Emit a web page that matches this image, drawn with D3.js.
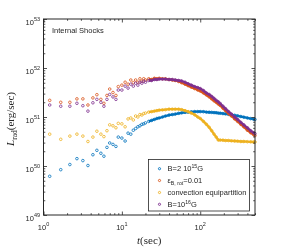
<!DOCTYPE html>
<html>
<head>
<meta charset="utf-8">
<script src="https://cdn.jsdelivr.net/npm/d3@7"></script>
<style>
  body { margin: 0; background: #fff; }
  svg { will-change: transform; }
  svg text { font-family: "Liberation Sans", Arial, sans-serif; fill: #262626; }
  svg text.serif { font-family: "Liberation Serif", "DejaVu Serif", serif; }
</style>
</head>
<body>
<div id="chart"></div>
<script>
// time grid (sec), shared by all runs
const times = [1.2, 1.66, 2.17, 2.67, 3.18, 3.69, 4.27, 4.8, 5.4, 5.9, 6.45, 7.0, 7.7, 8.4, 9.0,
    10, 11, 12, 13, 14, 15, 16, 17, 18, 19, 20, 22, 24, 26, 28, 30, 33, 36, 40, 44, 48,
    53, 58, 64, 70, 77, 85, 93, 100, 110, 120, 130, 140, 150, 160, 170, 180, 195, 210,
    230, 250, 275, 300, 330, 360, 400, 440, 480, 500];

// log10 of L_rad (erg/sec)
const logB2e15 = [49.79, 49.925, 50.03, 50.15, 50.11, 50.01, 50.23, 50.32, 50.26, 50.20, 50.38, 50.47, 50.44, 50.40, 50.59,
    50.57, 50.51, 50.67, 50.65, 50.73, 50.765, 50.80, 50.82, 50.85, 50.86, 50.88,
    50.91, 50.93, 50.95, 50.97, 50.98, 51.00, 51.02, 51.04, 51.05, 51.06,
    51.075, 51.085, 51.094, 51.10, 51.105, 51.11, 51.11, 51.11, 51.108, 51.10,
    51.097, 51.094, 51.09, 51.087, 51.08, 51.077, 51.07, 51.063, 51.055, 51.047,
    51.035, 51.025, 51.01, 50.996, 50.98, 50.967, 50.955, 50.95];
const logEpsRot = [51.34, 51.30, 51.30, 51.37, 51.37, 51.245, 51.39, 51.455, 51.36, 51.28, 51.44, 51.57, 51.50, 51.44, 51.62,
    51.65, 51.71, 51.67, 51.755, 51.70, 51.755, 51.71, 51.78, 51.73, 51.78, 51.755,
    51.78, 51.765, 51.79, 51.78, 51.79, 51.78, 51.78, 51.765, 51.755, 51.745,
    51.725, 51.70, 51.67, 51.64, 51.61, 51.58, 51.55, 51.53, 51.49, 51.45,
    51.41, 51.37, 51.33, 51.30, 51.265, 51.235, 51.18, 51.13, 51.07, 51.02,
    50.96, 50.91, 50.85, 50.80, 50.73, 50.68, 50.64, 50.62];
const logConvEq = [50.65, 50.545, 50.61, 50.65, 50.61, 50.50, 50.59, 50.71, 50.65, 50.60, 50.72, 50.84, 50.82, 50.78, 50.87,
    50.86, 50.80, 50.96, 50.98, 50.94, 51.02, 51.00, 51.05, 51.04, 51.07, 51.08,
    51.10, 51.11, 51.12, 51.13, 51.14, 51.145, 51.15, 51.16, 51.16, 51.16,
    51.16, 51.15, 51.13, 51.11, 51.08, 51.045, 51.00, 50.97, 50.91, 50.85,
    50.79, 50.72, 50.65, 50.59, 50.53, 50.53, 50.527, 50.52, 50.52, 50.514,
    50.51, 50.506, 50.50, 50.50, 50.496, 50.494, 50.49, 50.49];
const logB1e16 = [51.245, 51.22, 51.22, 51.28, 51.23, 51.12, 51.29, 51.36, 51.30, 51.22, 51.36, 51.46, 51.41, 51.36, 51.55,
    51.55, 51.63, 51.59, 51.67, 51.63, 51.69, 51.65, 51.71, 51.69, 51.73, 51.71,
    51.745, 51.745, 51.765, 51.765, 51.775, 51.775, 51.775, 51.765, 51.765, 51.755,
    51.745, 51.735, 51.71, 51.68, 51.65, 51.62, 51.60, 51.58, 51.54, 51.49,
    51.46, 51.42, 51.38, 51.34, 51.31, 51.275, 51.22, 51.17, 51.11, 51.06,
    51.00, 50.95, 50.89, 50.84, 50.78, 50.72, 50.68, 50.66];

const xMajor = [1, 10, 100];
const xMinor = [2, 3, 4, 5, 6, 7, 8, 9, 20, 30, 40, 50, 60, 70, 80, 90, 200, 300, 400, 500];
const yExponents = [49, 50, 51, 52, 53];

const WIDTH = 282, HEIGHT = 252;
const MARGINS = { top: 19, right: 27, bottom: 37, left: 43.5 };
const DENSE_FROM = 22; // beyond this the markers merge into a band
const INK = "#262626";

const xScale = d3.scaleLog().domain([1, 500]).range([MARGINS.left, WIDTH - MARGINS.right]);
const yScale = d3.scaleLog().domain([1e49, 1e53]).range([HEIGHT - MARGINS.bottom, MARGINS.top]);

const svg = d3.select("#chart").append("svg")
    .attr("width", WIDTH)
    .attr("height", HEIGHT)
    .attr("viewBox", [0, 0, WIDTH, HEIGHT]);

const series = [
    { name: "B2e15", values: logB2e15, color: "#0072BD" },
    { name: "epsRot", values: logEpsRot, color: "#D95319" },
    { name: "convEq", values: logConvEq, color: "#EDB120" },
    { name: "B1e16", values: logB1e16, color: "#7E2F8E" }
];

// Data
const line = d3.line()
    .x(d => xScale(d.t))
    .y(d => yScale(d.L));

series.forEach(function(s) {
    const pts = times.map((t, i) => ({ t: t, L: Math.pow(10, s.values[i]) }));
    svg.append("path")
        .datum(pts.filter(d => d.t >= DENSE_FROM))
        .attr("d", line)
        .style("fill", "none")
        .style("stroke", s.color)
        .style("stroke-width", 2.3)
        .style("stroke-linejoin", "round");
    svg.append("g").selectAll("circle")
        .data(pts)
        .join("circle")
        .attr("cx", d => xScale(d.t))
        .attr("cy", d => yScale(d.L))
        .attr("r", 1.3)
        .style("fill", "none")
        .style("stroke", s.color)
        .style("stroke-width", 0.8);
});

// Axes, ticks inward on all four sides
const x0 = MARGINS.left, x1 = WIDTH - MARGINS.right;
const y0 = HEIGHT - MARGINS.bottom, y1 = MARGINS.top;
const yMajor = yExponents.map(e => Math.pow(10, e));
const yMinor = [];
yExponents.slice(0, -1).forEach(e => [2, 3, 4, 5, 6, 7, 8, 9].forEach(m => yMinor.push(m * Math.pow(10, e))));

function tickAxis(axis, scale, transform, values, size) {
    const g = svg.append("g")
        .attr("transform", transform)
        .call(axis(scale).tickValues(values).tickSizeInner(size).tickSizeOuter(0).tickFormat(""));
    g.select(".domain").remove();
    g.selectAll(".tick line").style("stroke", INK).style("stroke-width", 0.8);
}
tickAxis(d3.axisBottom, xScale, `translate(0,${y0})`, xMajor, -3.5);
tickAxis(d3.axisBottom, xScale, `translate(0,${y0})`, xMinor, -1.8);
tickAxis(d3.axisTop, xScale, `translate(0,${y1})`, xMajor, -3.5);
tickAxis(d3.axisTop, xScale, `translate(0,${y1})`, xMinor, -1.8);
tickAxis(d3.axisLeft, yScale, `translate(${x0},0)`, yMajor, -3.5);
tickAxis(d3.axisLeft, yScale, `translate(${x0},0)`, yMinor, -1.8);
tickAxis(d3.axisRight, yScale, `translate(${x1},0)`, yMajor, -3.5);
tickAxis(d3.axisRight, yScale, `translate(${x1},0)`, yMinor, -1.8);

svg.append("rect")
    .attr("x", x0).attr("y", y1)
    .attr("width", x1 - x0).attr("height", y0 - y1)
    .style("fill", "none")
    .style("stroke", INK)
    .style("stroke-width", 1);

// Tick labels 10^n
function powLabel(t, exp) {
    t.append("tspan").text("10");
    t.append("tspan").attr("dy", -4).attr("font-size", 5.5).text(exp);
}
yExponents.forEach(function(e) {
    svg.append("text")
        .attr("x", 40).attr("y", yScale(Math.pow(10, e)) + 6)
        .attr("text-anchor", "end")
        .attr("font-size", 7.5)
        .call(powLabel, e);
});
xMajor.forEach(function(v) {
    svg.append("text")
        .attr("x", xScale(v)).attr("y", y0 + 15)
        .attr("text-anchor", "middle")
        .attr("font-size", 7.5)
        .call(powLabel, Math.round(Math.log10(v)));
});

// Axis titles
const xt = svg.append("text")
    .attr("class", "serif")
    .attr("x", (x0 + x1) / 2).attr("y", 244)
    .attr("text-anchor", "middle")
    .attr("font-size", 11);
xt.append("tspan").attr("font-style", "italic").text("t");
xt.append("tspan").text("(sec)");

const yt = svg.append("text")
    .attr("class", "serif")
    .attr("transform", `translate(14,${(y0 + y1) / 2 + 2}) rotate(-90)`)
    .attr("text-anchor", "middle")
    .attr("font-size", 11);
yt.append("tspan").attr("font-style", "italic").text("L");
yt.append("tspan").attr("dy", 2.5).attr("font-size", 7.5).text("rad");
yt.append("tspan").attr("dy", -2.5).text("(erg/sec)");

// Panel label
svg.append("text")
    .attr("x", 52).attr("y", 33)
    .attr("font-size", 7.5)
    .text("Internal Shocks");

// Legend
const legend = svg.append("g");
legend.append("rect")
    .attr("x", 148.5).attr("y", 159.5)
    .attr("width", 101).attr("height", 51.5)
    .style("fill", "#fff")
    .style("stroke", INK)
    .style("stroke-width", 0.8);
const legendRows = [168.7, 180.5, 192.5, 204.3];
series.forEach(function(s, i) {
    legend.append("circle")
        .attr("cx", 159.5).attr("cy", legendRows[i])
        .attr("r", 1.1)
        .style("fill", "none")
        .style("stroke", s.color)
        .style("stroke-width", 0.9);
});
function legendText(i) {
    return legend.append("text")
        .attr("x", 167.5).attr("y", legendRows[i] + 2.6)
        .attr("font-size", 7.5);
}
let lt = legendText(0);
lt.append("tspan").text("B=2 10");
lt.append("tspan").attr("dy", -3).attr("font-size", 5.2).text("15");
lt.append("tspan").attr("dy", 3).text("G");
lt = legendText(1);
lt.append("tspan").text("\u03b5");
lt.append("tspan").attr("dy", 2).attr("font-size", 5.2).text("B, rot");
lt.append("tspan").attr("dy", -2).text("=0.01");
legendText(2).text("convection equipartition");
lt = legendText(3);
lt.append("tspan").text("B=10");
lt.append("tspan").attr("dy", -3).attr("font-size", 5.2).text("16");
lt.append("tspan").attr("dy", 3).text("G");
</script>
</body>
</html>
